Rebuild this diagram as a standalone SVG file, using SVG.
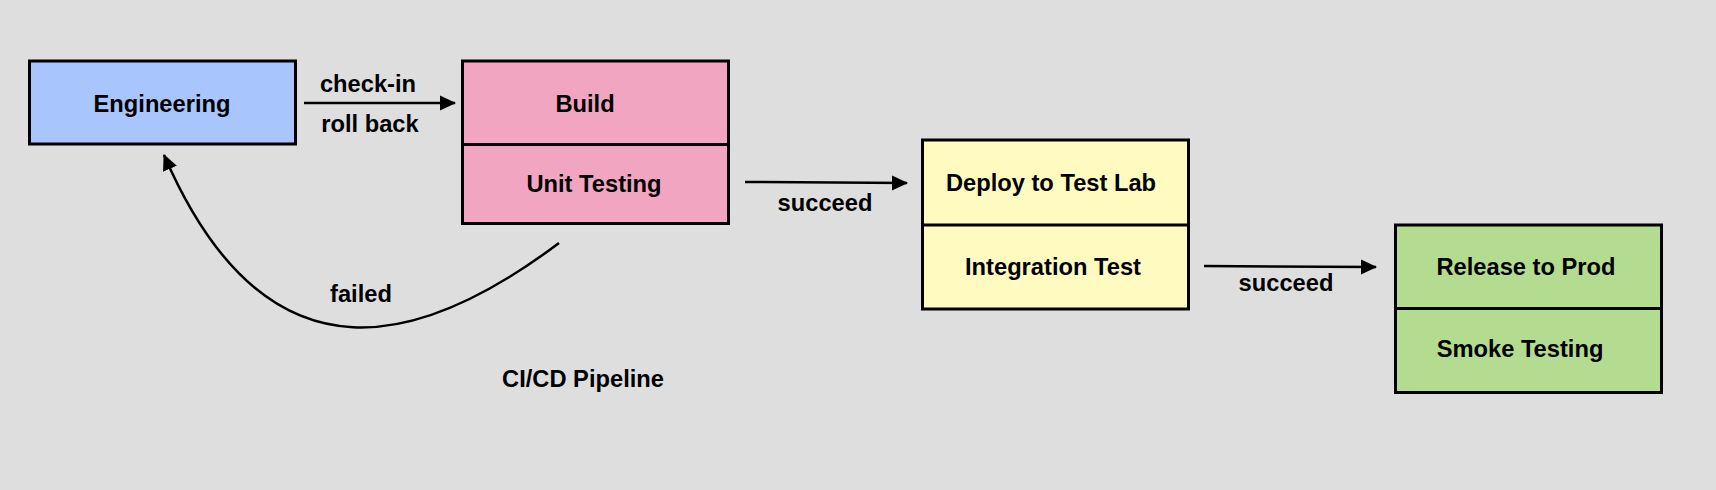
<svg xmlns="http://www.w3.org/2000/svg" width="1716" height="490" viewBox="0 0 1716 490">
<style>
.bg{fill:#dedede}
.box{stroke:#000;stroke-width:3}
.div{stroke:#000;stroke-width:3}
.t{font-family:"Liberation Sans",Arial,Helvetica,sans-serif;font-weight:bold;font-size:23.7px;fill:#000;text-anchor:middle}
.conn{fill:none;stroke:#000;stroke-width:2.5}
</style>
<defs>
<marker id="ah" viewBox="0 0 16 16" refX="15" refY="8" markerWidth="16" markerHeight="16" markerUnits="userSpaceOnUse" orient="auto">
<path d="M0,0.5 L16,8 L0,15.5 Z" fill="#000"/>
</marker>
</defs>
<rect class="bg" x="0" y="0" width="1716" height="490"/>
<g id="engineering">
<rect class="box" x="29.5" y="61" width="266" height="83" fill="#a9c5fd"/>
<text class="t" x="162" y="112">Engineering</text>
</g>
<g id="build">
<rect class="box" x="462.5" y="61" width="266" height="162.5" fill="#f2a5c0"/>
<line class="div" x1="462.5" y1="144.5" x2="728.5" y2="144.5"/>
<text class="t" x="585" y="112">Build</text>
<text class="t" x="594" y="192">Unit Testing</text>
</g>
<g id="deploy">
<rect class="box" x="922.5" y="140" width="266" height="169" fill="#fffabf"/>
<line class="div" x1="922.5" y1="225" x2="1188.5" y2="225"/>
<text class="t" x="1051" y="191">Deploy to Test Lab</text>
<text class="t" x="1053" y="275">Integration Test</text>
</g>
<g id="release">
<rect class="box" x="1395.5" y="225" width="266" height="167.5" fill="#b3dc91"/>
<line class="div" x1="1395.5" y1="308.5" x2="1661.5" y2="308.5"/>
<text class="t" x="1526" y="275">Release to Prod</text>
<text class="t" x="1520" y="357">Smoke Testing</text>
</g>
<g id="connectors">
<line class="conn" x1="304" y1="103" x2="455" y2="103" marker-end="url(#ah)"/>
<line class="conn" x1="745" y1="182" x2="907" y2="183" marker-end="url(#ah)"/>
<line class="conn" x1="1204" y1="266" x2="1376" y2="267" marker-end="url(#ah)"/>
<path class="conn" d="M559,243 C430,340 270,400 164,155" marker-end="url(#ah)"/>
<text class="t" x="368" y="92">check-in</text>
<text class="t" x="370" y="132">roll back</text>
<text class="t" x="825" y="211">succeed</text>
<text class="t" x="1286" y="291">succeed</text>
<text class="t" x="361" y="302">failed</text>
</g>
<text class="t" x="583" y="387">CI/CD Pipeline</text>
</svg>
